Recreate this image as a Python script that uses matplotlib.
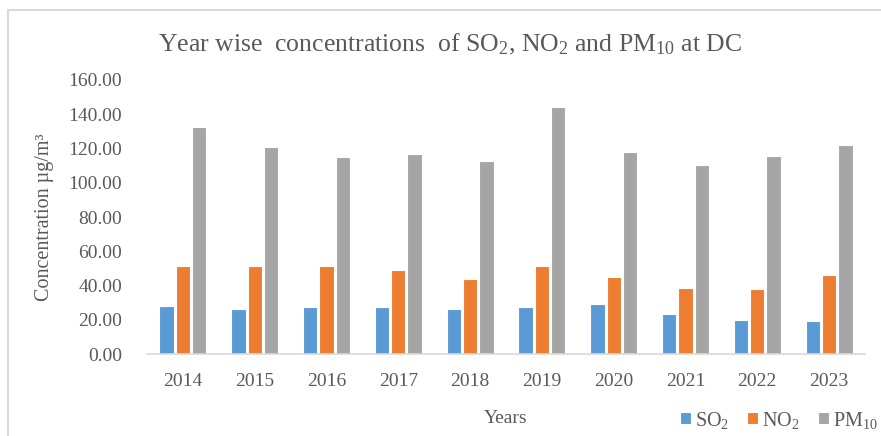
import matplotlib
matplotlib.use("Agg")
import matplotlib.pyplot as plt
import numpy as np
from matplotlib.patches import Rectangle

plt.rcParams["font.family"] = ["Liberation Serif", "DejaVu Serif"]
plt.rcParams["mathtext.fontset"] = "custom"
plt.rcParams["mathtext.rm"] = "Liberation Serif"
plt.rcParams["mathtext.default"] = "regular"

years = ["2014", "2015", "2016", "2017", "2018", "2019", "2020", "2021", "2022", "2023"]
so2 = [28.3, 26.2, 27.2, 27.2, 26.2, 27.2, 29.3, 23.1, 20.0, 19.0]
no2 = [51.1, 51.1, 51.1, 49.2, 43.9, 51.1, 44.9, 38.8, 37.7, 46.1]
pm10 = [132.4, 121.1, 114.9, 117.0, 112.9, 144.0, 118.0, 110.6, 115.8, 122.0]

series = [
    ("SO$_2$", so2, "#5B9BD5"),
    ("NO$_2$", no2, "#ED7D31"),
    ("PM$_{10}$", pm10, "#A5A5A5"),
]
text_col = "#595959"

W, H = 881, 436
fig = plt.figure(figsize=(W / 100, H / 100), dpi=100)
ax = fig.add_axes([147 / W, 1 - 354 / H, (865 - 147) / W, (354 - 80) / H])

x = np.arange(len(years))
step = 0.227
width = 0.2
for i, (name, vals, col) in enumerate(series):
    ax.bar(x + (i - 1) * step, vals, width, color=col, edgecolor="white",
           linewidth=0.8, label=name, zorder=2)

ax.set_xlim(-0.5, len(years) - 0.5)
ax.set_ylim(0, 160)
ax.set_yticks(np.arange(0, 161, 20))
ax.set_yticklabels([f"{v:.2f}" for v in np.arange(0, 161, 20)])
ax.set_xticks(x)
ax.set_xticklabels(years)
ax.tick_params(axis="both", length=0, labelsize=14, colors=text_col)
ax.tick_params(axis="y", pad=18)
ax.tick_params(axis="x", pad=14)

for s in ["top", "right", "left"]:
    ax.spines[s].set_visible(False)
ax.spines["bottom"].set_color("#D9D9D9")
ax.spines["bottom"].set_linewidth(1.2)

ax.set_xlabel("Years", fontsize=14, color=text_col, labelpad=14)
ax.set_ylabel("Concentration µg/m³", fontsize=14.5, color=text_col, labelpad=10)

fig.text(450 / W, 1 - 44 / H,
         "Year wise  concentrations  of SO$_2$, NO$_2$ and PM$_{10}$ at DC",
         ha="center", va="center", fontsize=18.5, color=text_col)

fig.legend(loc="center left", bbox_to_anchor=(680 / W, 1 - 420 / H), ncols=3,
           frameon=False, fontsize=14.5, handlelength=0.55, handleheight=0.55,
           handletextpad=0.2, columnspacing=0.9, labelcolor=text_col,
           borderaxespad=0, borderpad=0)

# chart-area border
fig.patches.append(Rectangle((8 / W, -0.1), 1.2, 1 - 10 / H + 0.1,
                             transform=fig.transFigure, fill=False,
                             edgecolor="#D9D9D9", linewidth=1.5))

fig.savefig("out.png", dpi=100)
